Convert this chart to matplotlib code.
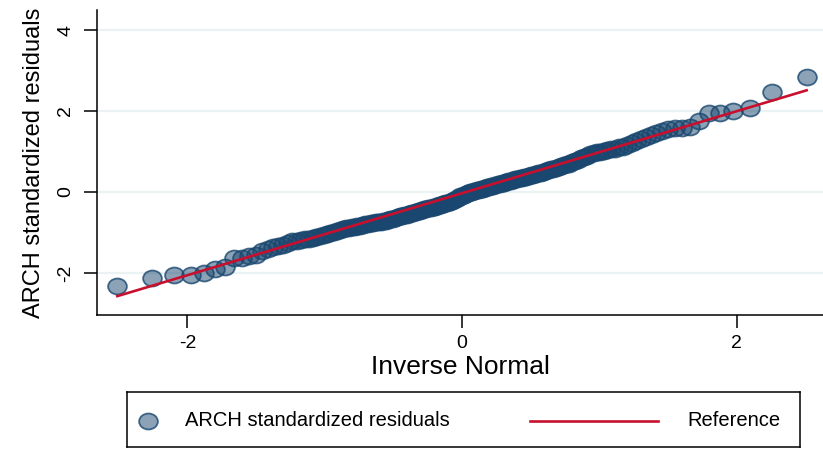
import numpy as np
import matplotlib
matplotlib.use('Agg')
import matplotlib.pyplot as plt
from matplotlib.path import Path
from statistics import NormalDist

plt.rcParams['font.family'] = ['Liberation Sans', 'DejaVu Sans']
plt.rcParams['axes.unicode_minus'] = False

### sorted standardized residuals
resid = [
    -2.32, -2.12, -2.06, -2.05, -1.99, -1.90, -1.86, -1.64, -1.62, -1.59,
    -1.55, -1.45, -1.40, -1.36, -1.34, -1.31, -1.26, -1.22, -1.20, -1.19,
    -1.17, -1.15, -1.13, -1.11, -1.09, -1.06, -1.04, -1.01, -0.98, -0.96,
    -0.94, -0.92, -0.90, -0.89, -0.87, -0.86, -0.84, -0.83, -0.81, -0.80,
    -0.79, -0.77, -0.76, -0.75, -0.74, -0.73, -0.72, -0.71, -0.69, -0.67,
    -0.66, -0.64, -0.62, -0.60, -0.59, -0.57, -0.56, -0.54, -0.52, -0.51,
    -0.49, -0.47, -0.46, -0.45, -0.43, -0.42, -0.40, -0.39, -0.37, -0.36,
    -0.34, -0.32, -0.31, -0.29, -0.28, -0.26, -0.24, -0.22, -0.20, -0.17,
    -0.14, -0.11, -0.09, -0.07, -0.05, -0.03, -0.01, 0.01, 0.03, 0.04,
    0.05, 0.07, 0.08, 0.10, 0.12, 0.13, 0.15, 0.16, 0.18, 0.19,
    0.20, 0.22, 0.23, 0.25, 0.26, 0.28, 0.29, 0.31, 0.32, 0.34,
    0.35, 0.37, 0.38, 0.40, 0.42, 0.43, 0.45, 0.46, 0.48, 0.50,
    0.52, 0.54, 0.56, 0.58, 0.60, 0.62, 0.64, 0.66, 0.68, 0.70,
    0.73, 0.76, 0.79, 0.83, 0.86, 0.90, 0.93, 0.96, 0.98, 1.00,
    1.01, 1.03, 1.05, 1.07, 1.10, 1.12, 1.15, 1.20, 1.25, 1.30,
    1.36, 1.40, 1.45, 1.50, 1.55, 1.57, 1.58, 1.60, 1.75, 1.95,
    1.96, 1.99, 2.07, 2.47, 2.84,
]
### reference line: mean + sd * z
ref_mean = -0.03
ref_sd = 1.012

x_ticks = [-2, 0, 2]
y_ticks = [-2, 0, 2, 4]

navy = (26/255, 71/255, 111/255)
red = '#c8102e'

n = len(resid)
inv_norm = np.array([NormalDist().inv_cdf(i / (n + 1)) for i in range(1, n + 1)])

### stata markers look a bit wider than tall
circ = Path.unit_circle()
ell = Path(circ.vertices * [1.0, 0.85], circ.codes)
mstyle = dict(linestyle='none', marker=ell, ms=13.5, mfc=navy + (0.5,),
              mec=navy + (0.8,), mew=1.3)

fig = plt.figure(figsize=(8.23, 4.49), dpi=100)
ax = fig.add_axes([97/823, 1 - 315/449, 1 - 97/823, 305/449])

ax.plot(inv_norm, resid, zorder=3, **mstyle)
xs = np.array([inv_norm[0], inv_norm[-1]])
ax.plot(xs, ref_mean + ref_sd * xs, color=red, lw=1.9, zorder=4)

ax.set_xlim(-2.659, 2.630)
ax.set_ylim(-3.037, 4.494)
ax.set_xticks(x_ticks)
ax.set_yticks(y_ticks)
ax.set_yticklabels([str(v) for v in y_ticks], rotation=90, va='center')
ax.yaxis.grid(True, color='#eaf2f3', lw=1.6)
ax.set_axisbelow(True)
for s in ['top', 'right']:
    ax.spines[s].set_visible(False)
for s in ['left', 'bottom']:
    ax.spines[s].set_linewidth(1.1)
ax.tick_params(length=9.5, width=1.1, labelsize=14)
ax.tick_params(axis='x', pad=5)
ax.tick_params(axis='y', pad=7)
ax.set_xlabel('Inverse Normal', fontsize=19, labelpad=2)
ax.set_ylabel('ARCH standardized residuals', fontsize=17, labelpad=9)

### legend box drawn as its own small axes
lax = fig.add_axes([127/823, 2/449, 673/823, 55/449])
lax.set_xlim(0, 1)
lax.set_ylim(0, 1)
lax.set_xticks([])
lax.set_yticks([])
for s in lax.spines.values():
    s.set_linewidth(1.1)
lax.plot([0.031], [0.48], **mstyle)
lax.plot([0.599, 0.789], [0.48, 0.48], color=red, lw=1.9)
lax.text(0.0862, 0.48, 'ARCH standardized residuals', fontsize=14.5, va='center')
lax.text(0.832, 0.48, 'Reference', fontsize=14.5, va='center')

fig.savefig('out.png', dpi=100)
